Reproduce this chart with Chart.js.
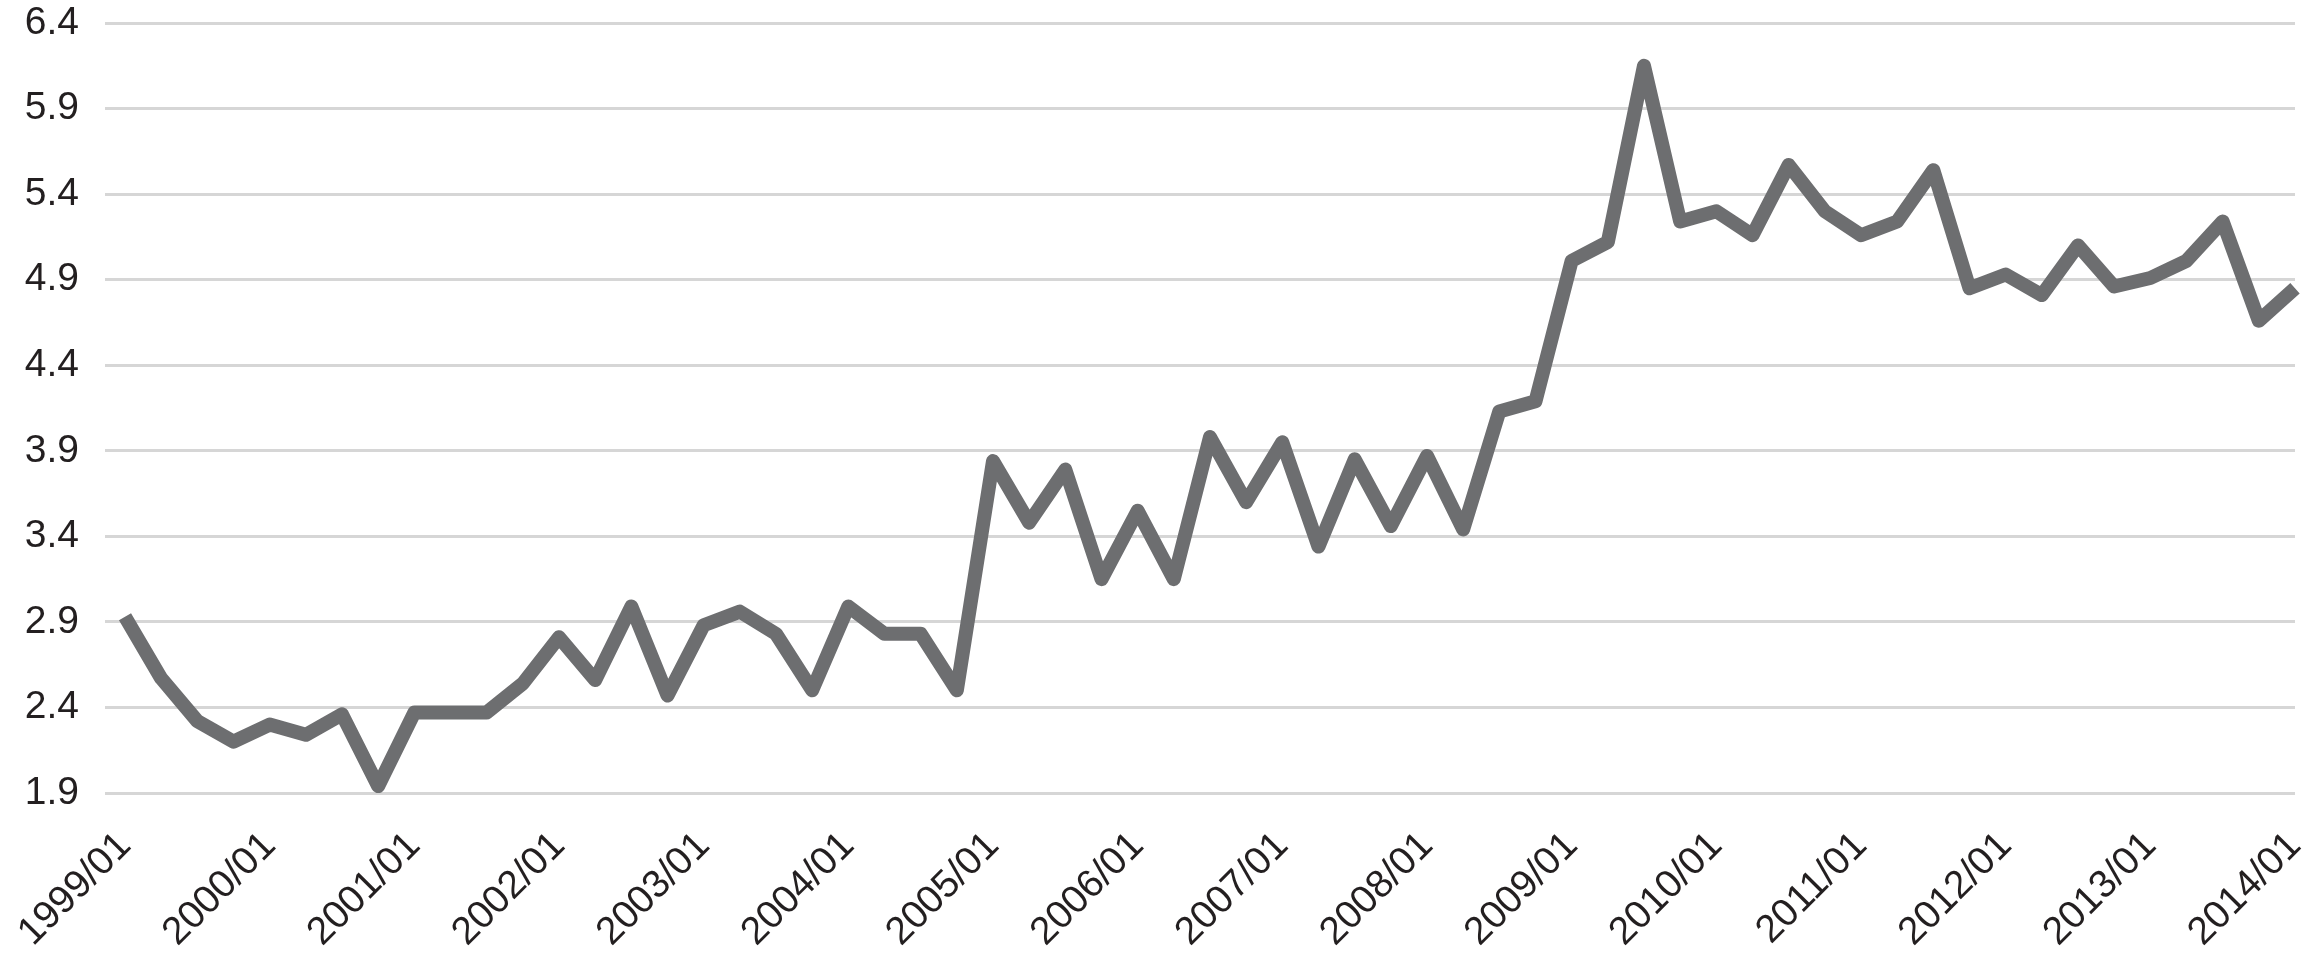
<!DOCTYPE html>
<html>
<head>
<meta charset="utf-8">
<script src="https://cdn.jsdelivr.net/npm/chart.js@4/dist/chart.umd.min.js"></script>
<style>
  html, body { margin: 0; padding: 0; background: #fff; }
  #wrap { width: 2303px; height: 957px; position: relative; }
</style>
</head>
<body>
<div id="wrap"><canvas id="chart"></canvas></div>
<script>
// quarterly series, 1999/01 .. 2014/01
const years = ["1999", "2000", "2001", "2002", "2003", "2004", "2005", "2006",
  "2007", "2008", "2009", "2010", "2011", "2012", "2013", "2014"];
const quarterMonths = ["01", "04", "07", "10"];

const values = [
  2.93, 2.57, 2.32, 2.20, 2.30, 2.24, 2.36, 1.94,   // 1999-2000
  2.37, 2.37, 2.37, 2.54, 2.81, 2.56, 2.99, 2.47,   // 2001-2002
  2.88, 2.96, 2.83, 2.50, 2.99, 2.83, 2.83, 2.50,   // 2003-2004
  3.84, 3.48, 3.79, 3.15, 3.55, 3.15, 3.98, 3.60,   // 2005-2006
  3.95, 3.34, 3.85, 3.46, 3.87, 3.44, 4.13, 4.19,   // 2007-2008
  5.01, 5.12, 6.15, 5.24, 5.30, 5.16, 5.57, 5.30,   // 2009-2010
  5.16, 5.24, 5.54, 4.85, 4.93, 4.81, 5.10, 4.86,   // 2011-2012
  4.91, 5.01, 5.24, 4.66, 4.85                      // 2013-2014/01
];

const yTicks = [1.9, 2.4, 2.9, 3.4, 3.9, 4.4, 4.9, 5.4, 5.9, 6.4];

const labels = [];
years.forEach((y) => quarterMonths.forEach((m) => labels.push(`${y}/${m}`)));
labels.length = values.length;

const FONT = "'Liberation Sans', Arial, sans-serif";
const TEXT = "#231f20";

new Chart(document.getElementById("chart"), {
  type: "line",
  data: {
    labels,
    datasets: [
      {
        data: values,
        borderColor: "#6d6e70",
        borderWidth: 14,
        borderJoinStyle: "round",
        pointRadius: 0,
        tension: 0,
        fill: false,
      },
    ],
  },
  options: {
    responsive: true,
    maintainAspectRatio: false,
    animation: false,
    layout: { padding: { top: 23, right: 8, bottom: 0, left: 0 } },
    plugins: {
      legend: { display: false },
      tooltip: { enabled: false },
    },
    scales: {
      x: {
        grid: { display: false, drawTicks: false },
        border: { display: false },
        ticks: {
          autoSkip: false,
          minRotation: 45,
          maxRotation: 45,
          padding: 30,
          color: TEXT,
          font: { family: FONT, size: 39 },
          callback: function (v, i) {
            return i % 4 === 0 ? this.getLabelForValue(v) : "";
          },
        },
        afterFit: (scale) => {
          scale.height = 164;
          scale.paddingLeft = 0;
          scale.paddingRight = 0;
        },
      },
      y: {
        min: 1.9,
        max: 6.4,
        grid: { color: "#d6d6d6", lineWidth: 3, drawTicks: true, tickLength: 20 },
        border: { display: false },
        ticks: {
          padding: 26,
          color: TEXT,
          font: { family: FONT, size: 39 },
          callback: (v) => Number(v).toFixed(1),
        },
        afterBuildTicks: (scale) => {
          scale.ticks = yTicks.map((v) => ({ value: v }));
        },
        afterFit: (scale) => {
          scale.width = 125;
          scale.paddingTop = 0;
          scale.paddingBottom = 0;
        },
      },
    },
  },
});
</script>
</body>
</html>
